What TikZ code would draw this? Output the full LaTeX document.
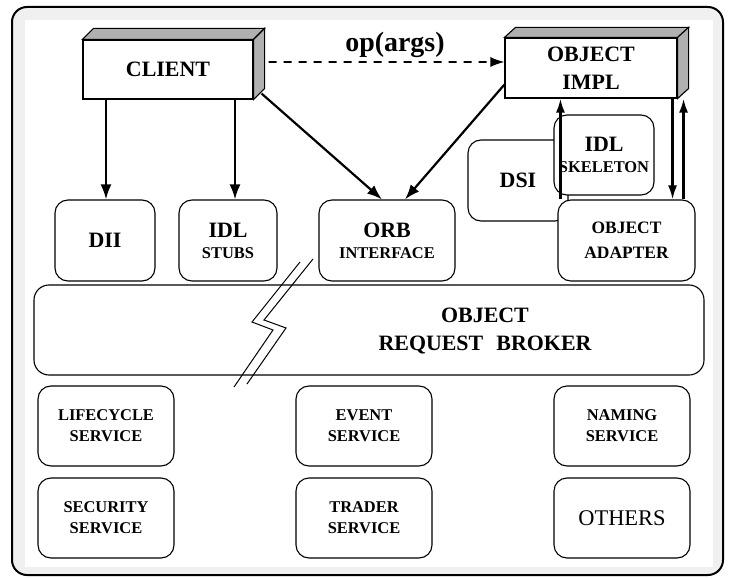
\documentclass[tikz,border=0pt]{standalone}
\usepackage{fontspec}
\setmainfont{Liberation Serif}
\usetikzlibrary{arrows.meta}

\newcommand\fbig{\fontsize{22}{28}\selectfont\bfseries}
\newcommand\fmid{\fontsize{17.5}{25}\selectfont\bfseries}
\newcommand\fsmall{\fontsize{16.5}{21}\selectfont\bfseries}

\begin{document}
\begin{tikzpicture}[x=1bp,y=-1bp,
  rbox/.style={draw, line width=1.1bp, rounded corners=13bp, fill=white,
               inner sep=0pt, align=center},
  solidbox/.style={draw, line width=1.1bp, fill=white, inner sep=0pt, align=center},
  face/.style={draw, line width=1.1bp, fill=gray!62},
  arr/.style={line width=2.2bp, -{Latex[length=15bp,width=11bp]}},
  thinarr/.style={line width=2.4bp, -{Latex[length=14bp,width=9bp]}},
  dasharr/.style={line width=1.6bp, dash pattern=on 8bp off 7bp,
                  -{Latex[length=14bp,width=10bp]}},
  bolt/.style={line width=1bp},
]
\useasboundingbox (0,0) rectangle (730,579);

% outer frame with its grey margin
\draw[line width=2bp, rounded corners=15bp, fill=gray!12] (12,7) rectangle (723,575);
\fill[white] (25,20) rectangle (713,567);

% client and object implementation (3-D boxes)
\node[solidbox, minimum width=170bp, minimum height=59bp, font=\fbig] (client) at (168,69.5)
  {CLIENT};
\draw[face] (client.north west) -- ++(11,-11)
  -- ([shift={(11,-11)}]client.north east) -- (client.north east) -- cycle;
\draw[face] (client.north east) -- ([shift={(11,-11)}]client.north east)
  -- ([shift={(11,-11)}]client.south east) -- (client.south east) -- cycle;

\node[solidbox, minimum width=172bp, minimum height=60bp, font=\fbig] (oimpl) at (591,68)
  {OBJECT\\IMPL};
\draw[face] (oimpl.north west) -- ++(11,-10)
  -- ([shift={(11,-10)}]oimpl.north east) -- (oimpl.north east) -- cycle;
\draw[face] (oimpl.north east) -- ([shift={(11,-10)}]oimpl.north east)
  -- ([shift={(11,-10)}]oimpl.south east) -- (oimpl.south east) -- cycle;

\node[anchor=base, font=\fontsize{28}{30}\selectfont\bfseries] (op) at (395,52) {op(args)};

% interface row
\node[rbox, minimum width=100bp, minimum height=81bp, font=\fbig] (dii) at (105,240.5) {DII};
\node[rbox, minimum width=98bp, minimum height=81bp, font=\fsmall] (stubs) at (228,240.5)
  {{\fbig IDL}\\STUBS};
\node[rbox, minimum width=136bp, minimum height=81bp, font=\fsmall] (orbif) at (387,240.5)
  {{\fbig ORB}\\INTERFACE};

% server side: DSI behind the skeleton, adapter in front
\node[rbox, minimum width=100bp, minimum height=81bp, font=\fbig] (dsi) at (518,180.5) {DSI};
\node[rbox, minimum width=100bp, minimum height=80bp, font=\fsmall] (skel) at (604,155)
  {{\fbig IDL}\\SKELETON};
\node[rbox, minimum width=137bp, minimum height=81bp, font=\fmid] (oa) at (626.5,240.5)
  {OBJECT\\ADAPTER};

% object request broker
\node[rbox, rounded corners=15bp, minimum width=670bp, minimum height=90bp] (orb) at (369,330)
  {};
\node[font=\fbig, align=center] (orbtext) at (485,331) {OBJECT\\REQUEST\hspace{0.6em}BROKER};

% break mark across the broker
\draw[bolt] (234,387) -- (273,330) -- (252,322) -- (300,262);
\draw[bolt] (247,384) -- (286,328) -- (264,320) -- (313,259);

% services
\node[rbox, minimum width=136bp, minimum height=80bp, font=\fsmall] (life) at (106,426)
  {LIFECYCLE\\SERVICE};
\node[rbox, minimum width=136bp, minimum height=80bp, font=\fsmall] (sec) at (106,518)
  {SECURITY\\SERVICE};
\node[rbox, minimum width=136bp, minimum height=80bp, font=\fsmall] (event) at (364,426)
  {EVENT\\SERVICE};
\node[rbox, minimum width=136bp, minimum height=80bp, font=\fsmall] (trader) at (364,518)
  {TRADER\\SERVICE};
\node[rbox, minimum width=136bp, minimum height=80bp, font=\fsmall] (naming) at (622,426)
  {NAMING\\SERVICE};
\node[rbox, minimum width=136bp, minimum height=80bp,
      font=\fontsize{22.5}{26}\selectfont] (others) at (622,518) {OTHERS};

% connectors
\draw[arr] ([xshift=1bp]dii.north |- client.south) -- ([xshift=1bp]dii.north);
\draw[arr] ([xshift=7bp]stubs.north |- client.south) -- ([xshift=7bp]stubs.north);
\draw[arr] ([shift={(8,-6)}]client.south east) -- ([xshift=-5bp]orbif.north);
\draw[arr] ([yshift=14bp]oimpl.south west) -- ([xshift=18bp]orbif.north);
\draw[dasharr] ([shift={(15bp,7.5bp)}]client.east) -- ([yshift=6bp]oimpl.west);

\draw[thinarr] ([xshift=3bp]oa.north west) -- ([xshift=3bp]oa.north west |- oimpl.south);
\draw[thinarr] ([xshift=-5bp]oimpl.south east) -- ([xshift=-5bp]oimpl.south east |- oa.north);
\draw[thinarr] ([xshift=6bp]oimpl.south east |- oa.north) -- ([xshift=6bp]oimpl.south east);
\end{tikzpicture}
\end{document}
